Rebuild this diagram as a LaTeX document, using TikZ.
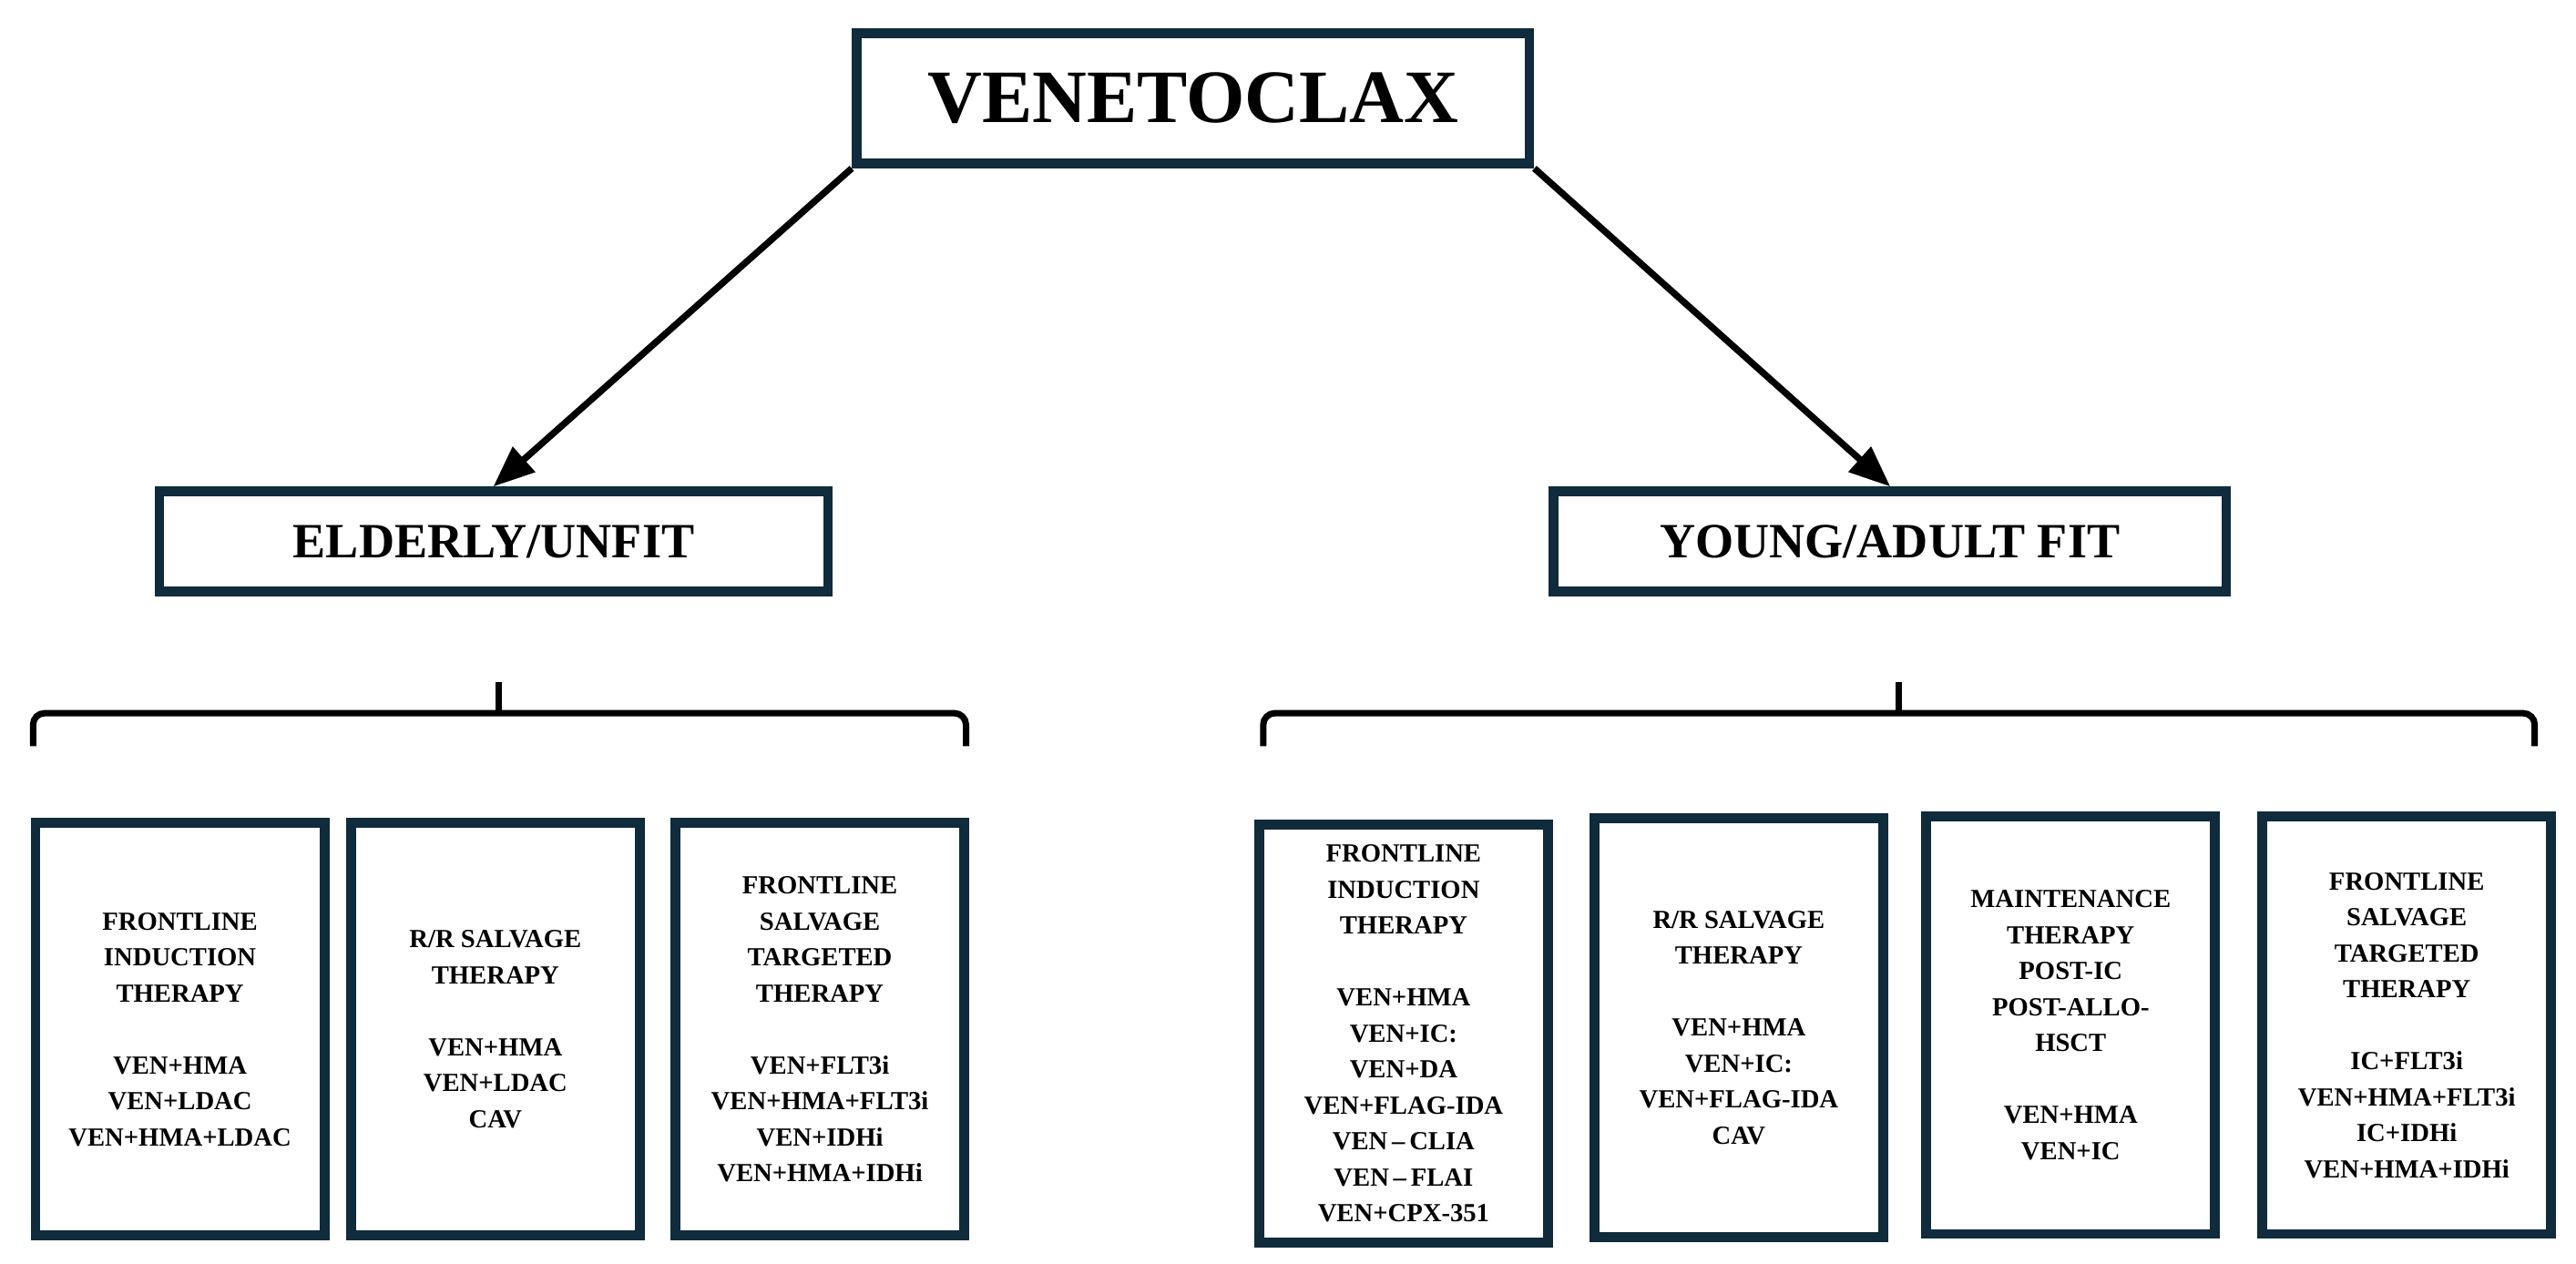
\documentclass[tikz,border=0pt]{standalone}
\usepackage{fontspec}
\setmainfont{Liberation Serif}
\usepackage{xcolor}
\usetikzlibrary{shapes,arrows,calc}
\definecolor{navy}{HTML}{0F2B3C}
\tikzstyle{tsBox} = [
    rectangle,
    draw=navy,
    line width=3.4pt,
    fill=white,
    text=black,
    font=\bfseries,
    align=center,
    inner sep=0pt
]
\tikzstyle{tsSmall} = [
    tsBox,
    font=\fontsize{9}{12.4}\selectfont\bfseries,
    minimum width=3.5cm,
    minimum height=5.0cm
]
\tikzstyle{tsArrow} = [
    -triangle 45,
    line width=2.3pt,
    black
]
\tikzstyle{tsBrace} = [
    line width=2.2pt,
    rounded corners=4pt,
    black
]
\begin{document}
\begin{tikzpicture}[x=0.02cm,y=-0.02cm]
        \useasboundingbox (0,0) rectangle (1560,765.6);

        % main boxes
        \node[tsBox, minimum width=8.15cm, minimum height=1.58cm,
              font=\fontsize{26}{30}\selectfont\bfseries] (ven) at (722.5,59.5) {VENETOCLAX};
        \node[tsBox, minimum width=8.1cm, minimum height=1.22cm,
              font=\fontsize{17}{20}\selectfont\bfseries] (elderly) at (299,328) {ELDERLY/UNFIT};
        \node[tsBox, minimum width=8.15cm, minimum height=1.22cm,
              font=\fontsize{17}{20}\selectfont\bfseries] (young) at (1144.5,328) {YOUNG/ADULT FIT};

        \draw[tsArrow] (ven.south west) -- (elderly.north);
        \draw[tsArrow] (ven.south east) -- (young.north);

        % braces
        \coordinate (lbA) at (20,452);
        \coordinate (lbB) at (585,452);
        \coordinate (lbT) at (302,413);
        \coordinate (rbA) at (765,452);
        \coordinate (rbB) at (1535,452);
        \coordinate (rbT) at (1150,413);
        \draw[tsBrace] (lbA) |- (lbT |- 0,432) -- (lbB |- 0,432) -- (lbB);
        \draw[tsBrace] (lbT) -- (lbT |- 0,432);
        \draw[tsBrace] (rbA) |- (rbT |- 0,432) -- (rbB |- 0,432) -- (rbB);
        \draw[tsBrace] (rbT) -- (rbT |- 0,432);

        % elderly/unfit
        \node[tsSmall] (eFront) at (109,623.5) {FRONTLINE\\INDUCTION\\THERAPY\\[12.4pt]VEN+HMA\\VEN+LDAC\\VEN+HMA+LDAC};
        \node[tsSmall] (eSalv) at (300,623.5) {R/R SALVAGE\\THERAPY\\[12.4pt]VEN+HMA\\VEN+LDAC\\CAV};
        \node[tsSmall] (eTarg) at (496.5,623.5) {FRONTLINE\\SALVAGE\\TARGETED\\THERAPY\\[12.4pt]VEN+FLT3i\\VEN+HMA+FLT3i\\VEN+IDHi\\VEN+HMA+IDHi};

        % young/adult fit
        \node[tsSmall, minimum height=5.06cm] (yFront) at (850,626) {FRONTLINE\\INDUCTION\\THERAPY\\[12.4pt]VEN+HMA\\VEN+IC:\\VEN+DA\\VEN+FLAG-IDA\\VEN\,--\,CLIA\\VEN\,--\,FLAI\\VEN+CPX-351};
        \node[tsSmall, minimum height=5.08cm] (ySalv) at (1053,622.5) {R/R SALVAGE\\THERAPY\\[12.4pt]VEN+HMA\\VEN+IC:\\VEN+FLAG-IDA\\CAV};
        \node[tsSmall, minimum height=5.06cm] (yMaint) at (1254,621) {MAINTENANCE\\THERAPY\\POST-IC\\POST-ALLO-\\HSCT\\[12.4pt]VEN+HMA\\VEN+IC};
        \node[tsSmall, minimum height=5.06cm] (yTarg) at (1457.5,621) {FRONTLINE\\SALVAGE\\TARGETED\\THERAPY\\[12.4pt]IC+FLT3i\\VEN+HMA+FLT3i\\IC+IDHi\\VEN+HMA+IDHi};
\end{tikzpicture}
\end{document}
